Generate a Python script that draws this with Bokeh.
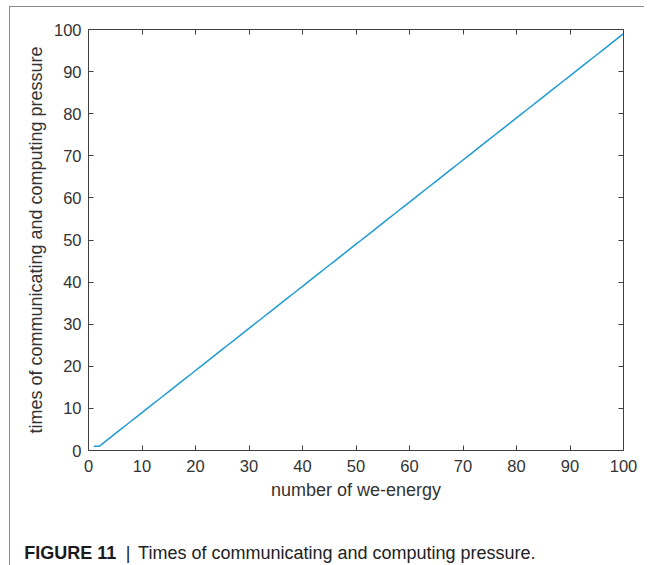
from bokeh.plotting import figure
from bokeh.models import Range1d, FixedTicker, LinearAxis, Label, InlineStyleSheet
from bokeh.embed import file_html
from bokeh.resources import INLINE

# data
n_we_energy = [1, 2, 3, 4, 5, 6, 7, 8, 9, 10,
               11, 12, 13, 14, 15, 16, 17, 18, 19, 20,
               21, 22, 23, 24, 25, 26, 27, 28, 29, 30,
               31, 32, 33, 34, 35, 36, 37, 38, 39, 40,
               41, 42, 43, 44, 45, 46, 47, 48, 49, 50,
               51, 52, 53, 54, 55, 56, 57, 58, 59, 60,
               61, 62, 63, 64, 65, 66, 67, 68, 69, 70,
               71, 72, 73, 74, 75, 76, 77, 78, 79, 80,
               81, 82, 83, 84, 85, 86, 87, 88, 89, 90,
               91, 92, 93, 94, 95, 96, 97, 98, 99, 100]
times_pressure = [1, 1, 2, 3, 4, 5, 6, 7, 8, 9,
                  10, 11, 12, 13, 14, 15, 16, 17, 18, 19,
                  20, 21, 22, 23, 24, 25, 26, 27, 28, 29,
                  30, 31, 32, 33, 34, 35, 36, 37, 38, 39,
                  40, 41, 42, 43, 44, 45, 46, 47, 48, 49,
                  50, 51, 52, 53, 54, 55, 56, 57, 58, 59,
                  60, 61, 62, 63, 64, 65, 66, 67, 68, 69,
                  70, 71, 72, 73, 74, 75, 76, 77, 78, 79,
                  80, 81, 82, 83, 84, 85, 86, 87, 88, 89,
                  90, 91, 92, 93, 94, 95, 96, 97, 98, 99]
x_ticks = [0, 10, 20, 30, 40, 50, 60, 70, 80, 90, 100]
y_ticks = [0, 10, 20, 30, 40, 50, 60, 70, 80, 90, 100]
caption_bold = "FIGURE 11"
caption_sep = "|"
caption_text = "Times of communicating and computing pressure."

FONT = "Liberation Sans"
AX = "#404040"
TXT = "#333333"

p = figure(width=653, height=565, output_backend="svg", toolbar_location=None,
           x_range=Range1d(0, 100), y_range=Range1d(0, 100),
           x_axis_label="number of we-energy",
           y_axis_label="times of communicating and computing pressure",
           min_border_left=88, min_border_right=30,
           min_border_top=29, min_border_bottom=115)
p.grid.visible = False
p.outline_line_color = None
p.background_fill_color = "white"
p.border_fill_color = "white"

p.line(n_we_energy, times_pressure, line_color="#1f9bd7", line_width=1.5)

def style_axis(ax, ticks, labels=True):
    ax.ticker = FixedTicker(ticks=ticks)
    ax.major_tick_in = 5
    ax.major_tick_out = 0
    ax.minor_tick_line_color = None
    ax.axis_line_color = AX
    ax.major_tick_line_color = AX
    ax.axis_line_width = 1
    ax.major_label_text_font = FONT
    ax.major_label_text_font_size = "16.5px"
    ax.major_label_text_color = TXT
    ax.axis_label_text_font = FONT
    ax.axis_label_text_font_size = "18px"
    ax.axis_label_text_font_style = "normal"
    ax.axis_label_text_color = TXT
    if not labels:
        ax.major_label_text_font_size = "0px"
        ax.major_label_text_color = None

style_axis(p.xaxis[0], x_ticks)
style_axis(p.yaxis[0], y_ticks)
p.xaxis[0].major_label_standoff = 9
p.xaxis[0].axis_label_standoff = 5
p.yaxis[0].major_label_standoff = 7
p.yaxis[0].axis_label_standoff = 5

top = LinearAxis()
style_axis(top, x_ticks, labels=False)
p.add_layout(top, "above")
right = LinearAxis()
style_axis(right, y_ticks, labels=False)
p.add_layout(right, "right")

# caption, placed in the panel below the plot (canvas pixel units, y from top)
p.add_layout(Label(x=23.7, y=552, x_units="canvas", y_units="canvas",
                   text=caption_bold, text_font=FONT, text_font_size="18px",
                   text_font_style="bold", text_color="#1a1a1a",
                   text_baseline="alphabetic"), "below")
p.add_layout(Label(x=125.3, y=552, x_units="canvas", y_units="canvas",
                   text=caption_sep, text_font=FONT, text_font_size="18px",
                   text_color="#1a1a1a", text_baseline="alphabetic"), "below")
p.add_layout(Label(x=137.6, y=552, x_units="canvas", y_units="canvas",
                   text=caption_text, text_font=FONT, text_font_size="18px",
                   text_color="#222222", text_baseline="alphabetic"), "below")

# thin grey figure border on the left and top
p.stylesheets = [InlineStyleSheet(css=":host::before { content: ''; position: absolute; "
                                      "left: 9px; top: 6px; width: 634px; height: 559px; "
                                      "border-left: 1.5px solid #8a8a8a; border-top: 1.5px solid #8a8a8a; "
                                      "z-index: 10; pointer-events: none; }")]

open("out.html", "w").write(file_html(p, INLINE))
